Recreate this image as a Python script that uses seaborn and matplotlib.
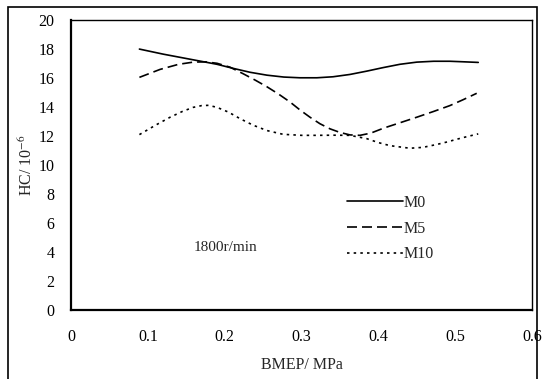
import numpy as np
import pandas as pd
import matplotlib
matplotlib.use("Agg")
import matplotlib.pyplot as plt
import seaborn as sns
from matplotlib.patches import Rectangle

# ── Data ───────────────────────────────────────────────────────────────────────

m0_x = [0.089, 0.12, 0.15, 0.17, 0.19, 0.211, 0.233, 0.255, 0.277, 0.298, 0.32,
        0.341, 0.363, 0.385, 0.406, 0.428, 0.45, 0.472, 0.493, 0.512, 0.53]
m0_y = [18.0, 17.65, 17.35, 17.15, 16.95, 16.67, 16.4, 16.2, 16.07, 16.02, 16.02,
        16.09, 16.25, 16.48, 16.72, 16.95, 17.1, 17.16, 17.16, 17.12, 17.08]

m5_x = [0.089, 0.116, 0.14, 0.159, 0.175, 0.19, 0.207, 0.224, 0.24, 0.255, 0.27,
        0.285, 0.298, 0.311, 0.324, 0.337, 0.35, 0.363, 0.376, 0.39, 0.407,
        0.43, 0.45, 0.472, 0.493, 0.51, 0.528]
m5_y = [16.05, 16.6, 16.95, 17.1, 17.12, 17.02, 16.75, 16.3, 15.85, 15.4, 14.9,
        14.35, 13.8, 13.3, 12.85, 12.5, 12.25, 12.08, 12.05, 12.2, 12.55,
        12.95, 13.3, 13.7, 14.1, 14.5, 14.95]

m10_x = [0.089, 0.11, 0.129, 0.145, 0.159, 0.17, 0.179, 0.19, 0.205, 0.22, 0.237,
         0.255, 0.276, 0.3, 0.32, 0.342, 0.363, 0.385, 0.4, 0.415, 0.441, 0.458,
         0.476, 0.49, 0.502, 0.516, 0.53]
m10_y = [12.1, 12.75, 13.3, 13.7, 13.98, 14.1, 14.12, 13.98, 13.65, 13.2, 12.75,
         12.38, 12.12, 12.05, 12.05, 12.06, 12.05, 11.82, 11.55, 11.34, 11.16, 11.22,
         11.42, 11.6, 11.78, 11.97, 12.15]

series = ["M0", "M5", "M10"]
x_ticks = [0, 0.1, 0.2, 0.3, 0.4, 0.5, 0.6]
x_tick_labels = ["0", "0.1", "0.2", "0.3", "0.4", "0.5", "0.6"]
y_ticks = [0, 2, 4, 6, 8, 10, 12, 14, 16, 18, 20]

df = pd.concat([
    pd.DataFrame({"BMEP": m0_x, "HC": m0_y, "fuel": "M0"}),
    pd.DataFrame({"BMEP": m5_x, "HC": m5_y, "fuel": "M5"}),
    pd.DataFrame({"BMEP": m10_x, "HC": m10_y, "fuel": "M10"}),
], ignore_index=True)

# ── Plot ───────────────────────────────────────────────────────────────────────

sns.set_style("white")
plt.rcParams["font.family"] = ["Liberation Serif", "DejaVu Serif"]
plt.rcParams["mathtext.fontset"] = "stix"

fig = plt.figure(figsize=(5.43, 3.79), dpi=100)
ax = fig.add_axes([0.1308, 0.182, 0.849, 0.765])

dashes = {"M0": "", "M5": (6, 3), "M10": (1.5, 2.5)}
sns.lineplot(data=df, x="BMEP", y="HC", hue="fuel", style="fuel",
             hue_order=series, style_order=series,
             palette={s: "black" for s in series}, dashes=dashes,
             sort=False, linewidth=1.2, ax=ax)

ax.set_xlim(0, 0.6)
ax.set_ylim(0, 20)
ax.set_xticks(x_ticks)
ax.set_xticklabels(x_tick_labels)
ax.set_yticks(y_ticks)
ax.tick_params(direction="in", length=4, width=1, labelsize=11.5, colors="black",
               pad=14)
ax.tick_params(axis="y", pad=12)
for sp in ax.spines.values():
    sp.set_color("black")
    sp.set_linewidth(1)
ax.spines["bottom"].set_linewidth(1.6)
ax.spines["left"].set_linewidth(1.6)

ax.set_xlabel("BMEP/ MPa", fontsize=11.5, labelpad=8)
ax.set_ylabel("HC/ 10$^{-6}$", fontsize=11.5, labelpad=2)

ax.text(0.159, 4.3, "1800r/min", fontsize=11, va="center", ha="left")

handles, labels = ax.get_legend_handles_labels()
ax.legend(handles, labels, loc="upper left", bbox_to_anchor=(0.585, 0.42),
          frameon=False, fontsize=11.5, handlelength=3.5, handletextpad=0.05,
          labelspacing=0.62, borderaxespad=0)

# outer frame around the whole chart (bottom edge falls outside the image)
fig.patches.append(Rectangle((8 / 543, -0.05), 529 / 543, 1.05 - 7 / 379,
                             transform=fig.transFigure, fill=False,
                             edgecolor="black", linewidth=1.2))

fig.savefig("out.png", dpi=100)
